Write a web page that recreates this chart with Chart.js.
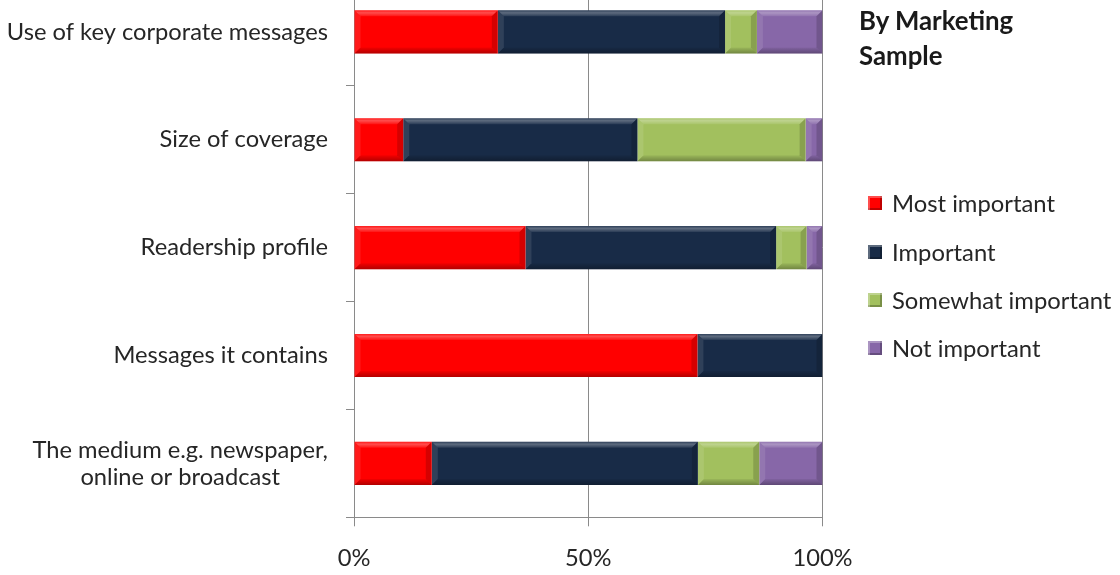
<!DOCTYPE html>
<html>
<head>
<meta charset="utf-8">
<script src="https://cdn.jsdelivr.net/npm/chart.js@4"></script>
<style>
    body { margin: 0; background: #fff; }
    #wrap { position: relative; width: 1120px; height: 575px; overflow: hidden; font-family: Lato, sans-serif; color: #262626; }
    #chart { position: absolute; left: 0; top: -22px; }
    #title { position: absolute; left: 859px; top: 3px; font-weight: bold; font-size: 25.8px; line-height: 35px; color: #1a1a1a; }
    #legend { position: absolute; left: 868px; top: 0; }
    .item { position: absolute; left: 0; white-space: nowrap; font-size: 23.8px; line-height: 28px; }
    .item i { position: absolute; left: 0; top: 7px; width: 14px; height: 14px; box-sizing: border-box; }
    .item span { position: absolute; left: 24px; top: 0; }
</style>
</head>
<body>
<div id="wrap">
    <canvas id="chart" width="1120" height="597"></canvas>
    <div id="title">By Marketing<br>Sample</div>
    <div id="legend"></div>
</div>
<script>
const categories = [
    ['Use of key corporate messages'],
    ['Size of coverage'],
    ['Readership profile'],
    ['Messages it contains'],
    ['The medium e.g. newspaper,', 'online or broadcast']
]
const seriesNames = ['Most important', 'Important', 'Somewhat important', 'Not important']
const mostImportant = [30.7, 10.5, 36.6, 73.3, 16.6]
const important = [48.5, 50.0, 53.5, 26.7, 56.8]
const somewhatImportant = [6.8, 35.9, 6.5, 0, 13.1]
const notImportant = [14.0, 3.6, 3.4, 0, 13.5]
const tickValues = [0, 50, 100]
const colors = ['#ff0000', '#182b47', '#a2c05e', '#8767a8']

const axisGray = '#8a8a8a'
const labelFont = '23.7px Lato'

// bevelled edges on each bar segment
const bevel = {
    id: 'bevel',
    afterDatasetsDraw(chart) {
        const ctx = chart.ctx
        chart.data.datasets.forEach((ds, di) => {
            chart.getDatasetMeta(di).data.forEach(bar => {
                const l = Math.min(bar.x, bar.base), r = Math.max(bar.x, bar.base)
                const t = bar.y - bar.height / 2, b = bar.y + bar.height / 2
                if (r - l < 1) return
                const s = Math.min(6, (r - l) / 2)
                const poly = (pts, fill) => {
                    ctx.beginPath()
                    ctx.moveTo(pts[0][0], pts[0][1])
                    pts.slice(1).forEach(p => ctx.lineTo(p[0], p[1]))
                    ctx.closePath()
                    ctx.fillStyle = fill
                    ctx.fill()
                }
                ctx.save()
                const top = ctx.createLinearGradient(0, t, 0, t + s)
                top.addColorStop(0, 'rgba(255,255,255,0.1)')
                top.addColorStop(0.4, 'rgba(255,255,255,0.3)')
                top.addColorStop(1, 'rgba(255,255,255,0.08)')
                poly([[l, t], [r, t], [r - s, t + s], [l + s, t + s]], top)
                const bot = ctx.createLinearGradient(0, b - s, 0, b)
                bot.addColorStop(0, 'rgba(0,0,0,0.05)')
                bot.addColorStop(1, 'rgba(0,0,0,0.3)')
                poly([[l, b], [r, b], [r - s, b - s], [l + s, b - s]], bot)
                poly([[l, t], [l + s, t + s], [l + s, b - s], [l, b]], 'rgba(255,255,255,0.1)')
                poly([[r, t], [r - s, t + s], [r - s, b - s], [r, b]], 'rgba(0,0,0,0.16)')
                ctx.restore()
            })
        })
    }
}

// category names, right aligned, extra lines centred on the first one
const categoryLabels = {
    id: 'categoryLabels',
    afterDraw(chart) {
        const ctx = chart.ctx
        const y = chart.scales.y
        const right = 328
        ctx.save()
        ctx.font = labelFont
        ctx.fillStyle = '#262626'
        ctx.textBaseline = 'middle'
        categories.forEach((lines, i) => {
            const cy = y.getPixelForTick(i)
            const w = Math.max(...lines.map(s => ctx.measureText(s).width))
            const lh = 27
            lines.forEach((s, j) => {
                const ly = cy + (j - (lines.length - 1) / 2) * lh
                if (lines.length === 1) {
                    ctx.textAlign = 'right'
                    ctx.fillText(s, right, ly)
                } else {
                    ctx.textAlign = 'center'
                    ctx.fillText(s, right - w / 2, ly)
                }
            })
        })
        ctx.restore()
    }
}

const datasets = [mostImportant, important, somewhatImportant, notImportant].map((data, i) => ({
    label: seriesNames[i],
    data: data,
    backgroundColor: colors[i],
    borderWidth: 0
}))

new Chart(document.getElementById('chart'), {
    type: 'bar',
    data: {
        labels: categories.map(c => c.join(' ')),
        datasets: datasets
    },
    options: {
        indexAxis: 'y',
        responsive: false,
        animation: false,
        events: [],
        categoryPercentage: 0.4,
        barPercentage: 1,
        layout: { padding: { left: 0, right: 297.5, top: 0, bottom: 0 } },
        plugins: { legend: { display: false }, tooltip: { enabled: false } },
        scales: {
            x: {
                stacked: true,
                min: 0,
                max: 100,
                afterBuildTicks: scale => { scale.ticks = tickValues.map(v => ({ value: v })) },
                afterFit: scale => { scale.height = 57.7 },
                ticks: {
                    callback: v => v + '%',
                    font: { family: 'Lato', size: 23.7 },
                    color: '#262626',
                    padding: 18,
                    maxRotation: 0
                },
                grid: { color: axisGray, tickLength: 9, lineWidth: 1 },
                border: { color: axisGray }
            },
            y: {
                stacked: true,
                afterFit: scale => { scale.width = 354 },
                ticks: { display: false },
                grid: { offset: true, drawOnChartArea: false, color: axisGray, tickLength: 8 },
                border: { color: axisGray }
            }
        }
    },
    plugins: [bevel, categoryLabels]
})

// legend built from the series
const legend = document.getElementById('legend')
const legendY = [203, 252, 300, 348]
seriesNames.forEach((name, i) => {
    const item = document.createElement('div')
    item.className = 'item'
    item.style.top = (legendY[i] - 14) + 'px'
    item.innerHTML = `<i style="background:${colors[i]};box-shadow: inset 2px 2px 0 rgba(255,255,255,0.3), inset -2px -2px 0 rgba(0,0,0,0.25)"></i><span>${name}</span>`
    legend.appendChild(item)
})
</script>
</body>
</html>
